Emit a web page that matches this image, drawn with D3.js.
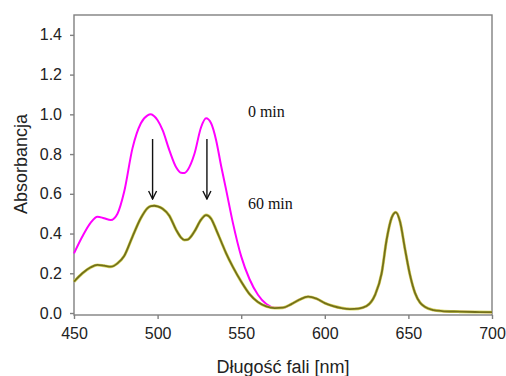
<!DOCTYPE html>
<html>
<head>
<meta charset="utf-8">
<script src="https://cdn.jsdelivr.net/npm/d3@7"></script>
<style>
  body { margin: 0; background: #fff; }
  svg { display: block; }
</style>
</head>
<body>
<script>
// wavelength [nm]
var wavelength = [450, 455, 460, 464, 468, 472, 476, 480, 485, 490, 494, 496, 498, 500, 503, 507, 511, 514, 516, 518, 522, 526, 529, 532, 535, 538, 541, 545, 550, 555, 560, 565, 570, 575, 580, 585, 590, 595, 600, 605, 610, 615, 620, 625, 630, 634, 637, 640, 642.5, 645, 648, 651, 654, 657, 660, 665, 670, 680, 690, 700]
// 0 min
var abs0 = [0.30, 0.385, 0.455, 0.485, 0.477, 0.468, 0.50, 0.61, 0.83, 0.955, 0.995, 1.0, 0.99, 0.97, 0.92, 0.82, 0.735, 0.706, 0.705, 0.72, 0.80, 0.935, 0.98, 0.955, 0.87, 0.74, 0.62, 0.455, 0.285, 0.17, 0.092, 0.045, 0.027, 0.026, 0.045, 0.068, 0.082, 0.072, 0.05, 0.035, 0.025, 0.02, 0.022, 0.035, 0.09, 0.2, 0.37, 0.48, 0.507, 0.46, 0.32, 0.19, 0.10, 0.052, 0.03, 0.015, 0.01, 0.007, 0.005, 0.004]
// 60 min
var abs60 = [0.158, 0.20, 0.23, 0.242, 0.238, 0.233, 0.25, 0.287, 0.385, 0.478, 0.528, 0.538, 0.54, 0.537, 0.525, 0.49, 0.42, 0.38, 0.368, 0.37, 0.41, 0.47, 0.493, 0.475, 0.42, 0.36, 0.30, 0.232, 0.158, 0.095, 0.055, 0.033, 0.025, 0.027, 0.045, 0.068, 0.082, 0.072, 0.05, 0.035, 0.025, 0.02, 0.022, 0.035, 0.09, 0.2, 0.37, 0.48, 0.507, 0.46, 0.32, 0.19, 0.10, 0.052, 0.03, 0.015, 0.01, 0.007, 0.005, 0.004]

var xTicks = [450, 500, 550, 600, 650, 700]
var yTicks = [0, 0.2, 0.4, 0.6, 0.8, 1.0, 1.2, 1.4]

// arrows: wavelength, from, to
var arrowX = [497, 529.5]
var arrowFrom = 0.876
var arrowTo = 0.574

var labels = [{t: "0 min", x: 554, y: 0.987}, {t: "60 min", x: 554, y: 0.524}]

var width = 506, height = 376
var pl = 74, pr = 492, pt = 15, pb = 315

var svg = d3.select("body").append("svg")
    .attr("width", width)
    .attr("height", height)

var x = d3.scaleLinear().domain([450, 700]).range([pl, pr])
var y = d3.scaleLinear().domain([-0.01, 1.5]).range([pb, pt])

// frame
svg.append("rect")
    .attr("x", pl).attr("y", pt)
    .attr("width", pr - pl).attr("height", pb - pt)
    .attr("fill", "none")
    .attr("stroke", "#808080")
    .attr("stroke-width", 1.4)

svg.append("g")
    .attr("transform", "translate(0," + pb + ")")
    .call(d3.axisBottom(x).tickValues(xTicks).tickSize(4).tickPadding(9).tickFormat(d3.format("d")))
svg.append("g")
    .attr("transform", "translate(" + pl + ",0)")
    .call(d3.axisLeft(y).tickValues(yTicks).tickSize(4).tickPadding(8).tickFormat(d3.format(".1f")))

svg.selectAll(".domain").remove()
svg.selectAll(".tick line").attr("stroke", "#808080").attr("stroke-width", 1.4)
svg.selectAll(".tick text")
    .attr("fill", "#222")
    .style("font-family", "Liberation Sans, Arial, sans-serif")
    .style("font-size", "16px")

var line = function(vals) {
  return d3.line()
    .x(function(d, i) { return x(wavelength[i]) })
    .y(function(d) { return y(d) })
    .curve(d3.curveMonotoneX)(vals)
}

svg.append("path")
    .attr("d", line(abs0))
    .attr("fill", "none")
    .attr("stroke", "#ff00ff")
    .attr("stroke-width", 2)

// light halo under olive line
svg.append("path")
    .attr("d", line(abs60))
    .attr("fill", "none")
    .attr("stroke", "#d8d860")
    .attr("stroke-width", 3)
svg.append("path")
    .attr("d", line(abs60))
    .attr("fill", "none")
    .attr("stroke", "#73701a")
    .attr("stroke-width", 1.8)

// arrows
svg.append("defs").append("marker")
    .attr("id", "head")
    .attr("viewBox", "0 0 10 10")
    .attr("refX", 9).attr("refY", 5)
    .attr("markerWidth", 10).attr("markerHeight", 10)
    .attr("markerUnits", "userSpaceOnUse")
    .attr("orient", "auto")
  .append("path")
    .attr("d", "M1,1 L9,5 L1,9")
    .attr("fill", "none")
    .attr("stroke", "#111")
    .attr("stroke-width", 1.4)

svg.selectAll("line.arrow").data(arrowX).enter()
  .append("line")
    .attr("class", "arrow")
    .attr("x1", function(d) { return x(d) })
    .attr("x2", function(d) { return x(d) })
    .attr("y1", y(arrowFrom))
    .attr("y2", y(arrowTo))
    .attr("stroke", "#111")
    .attr("stroke-width", 1.4)
    .attr("marker-end", "url(#head)")

svg.selectAll("text.lab").data(labels).enter()
  .append("text")
    .attr("class", "lab")
    .attr("x", function(d) { return x(d.x) })
    .attr("y", function(d) { return y(d.y) })
    .attr("fill", "#111")
    .style("font-family", "Liberation Serif, Times New Roman, serif")
    .style("font-size", "16px")
    .text(function(d) { return d.t })

svg.append("text")
    .attr("x", 283)
    .attr("y", 373)
    .attr("text-anchor", "middle")
    .attr("fill", "#222")
    .style("font-family", "Liberation Sans, Arial, sans-serif")
    .style("font-size", "18px")
    .text("Długość fali [nm]")

svg.append("text")
    .attr("transform", "translate(27,164) rotate(-90)")
    .attr("text-anchor", "middle")
    .attr("fill", "#222")
    .style("font-family", "Liberation Sans, Arial, sans-serif")
    .style("font-size", "18px")
    .text("Absorbancja")
</script>
</body>
</html>
